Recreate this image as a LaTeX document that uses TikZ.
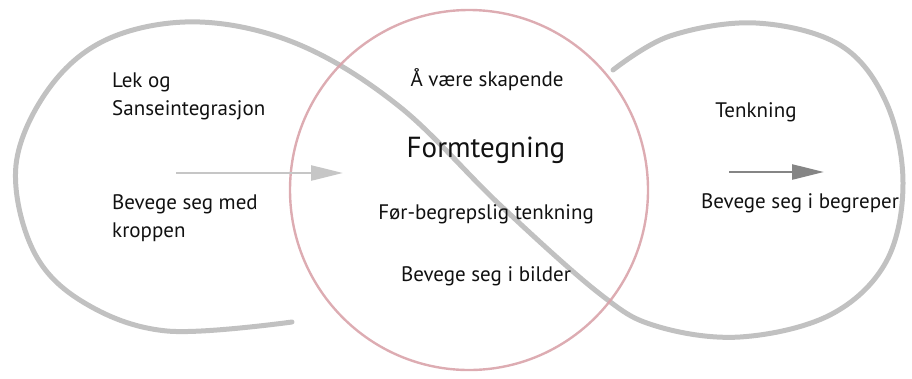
\documentclass[tikz,border=0pt]{standalone}
\usepackage{fontspec}
\setmainfont{PT Sans}
\usepackage{tikz}
\usetikzlibrary{
  arrows.meta,
  positioning,
  calc
}
\definecolor{fmPencil}{HTML}{B6B6B6}
\definecolor{fmRed}{HTML}{D9A3AA}
\definecolor{fmArrowLight}{HTML}{C6C6C6}
\definecolor{fmArrowDark}{HTML}{858585}
\definecolor{fmText}{HTML}{111111}
\tikzset{
  pencil/.style={draw=fmPencil, line width=5pt, line cap=round, line join=round, opacity=0.85},
  redpencil/.style={draw=fmRed, line width=2.4pt, opacity=0.9},
  fmtext/.style={font=\fontsize{21}{28}\selectfont, text=fmText, inner sep=0pt, align=left},
  fmtitle/.style={fmtext, font=\fontsize{29}{34}\selectfont},
  fmarrow/.style={-{Triangle[length=32pt, width=15pt]}, line width=2.5pt}
}

\begin{document}
\begin{tikzpicture}[x=1pt, y=-1pt]
  \useasboundingbox (0,0) rectangle (912,378);

  % the lying eight
  \draw[pencil] plot[smooth, tension=0.6] coordinates {
    (292,322) (167,331) (83,302) (33,250) (16,165) (50,87) (110,38)
    (200,22) (300,45) (400,107) (500,205) (600,294) (656,326) (740,337)
    (830,315) (886,262) (903,183) (886,102) (840,45) (756,23) (670,36)
    (613,70)};

  % the middle circle
  \draw[redpencil] (469,190) ellipse [x radius=179, y radius=180];

  % left
  \node[fmtext, anchor=west] (lek) at (112,96) {Lek og\\Sanseintegrasjon};
  \node[fmtext, anchor=west] (kropp) at (112,218) {Bevege seg med\\kroppen};
  \coordinate (l0) at (176,173);
  \coordinate (l1) at (343,173);
  \draw[fmarrow, fmArrowLight] (l0) -- (l1);

  % middle
  \node[fmtext, anchor=center] (skap) at (487,80) {Å være skapende};
  \node[fmtitle, anchor=center] (form) at (486,150) {Formtegning};
  \node[fmtext, anchor=center] (forb) at (486,214) {Før-begrepslig tenkning};
  \node[fmtext, anchor=center] (bild) at (486,276) {Bevege seg i bilder};

  % right
  \node[fmtext, anchor=center] (tenk) at (756,112) {Tenkning};
  \node[fmtext, anchor=center] (begr) at (800,203) {Bevege seg i begreper};
  \coordinate (r0) at (729,172);
  \coordinate (r1) at (824,172);
  \draw[fmarrow, fmArrowDark] (r0) -- (r1);
\end{tikzpicture}
\end{document}
